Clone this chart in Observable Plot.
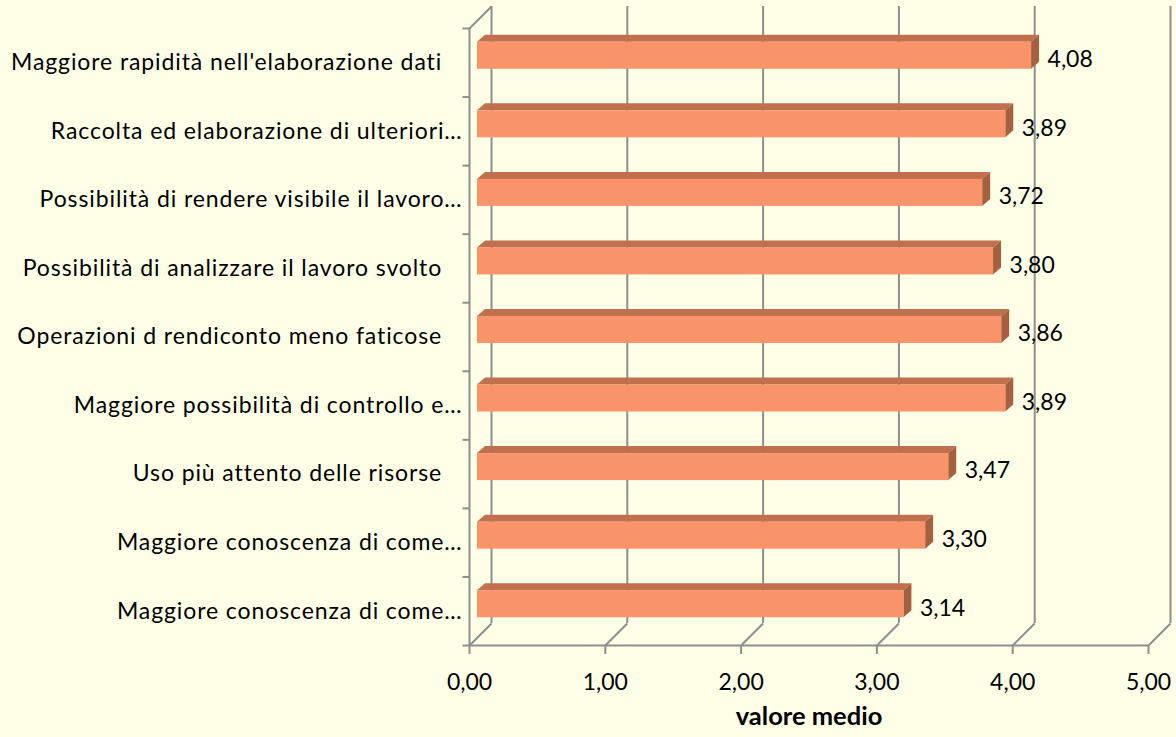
<!DOCTYPE html>
<html><head><meta charset="utf-8">
<script src="https://cdn.jsdelivr.net/npm/d3@7"></script>
<script src="https://cdn.jsdelivr.net/npm/@observablehq/plot@0.6"></script>
<style>html,body{margin:0;padding:0;background:#FFFFE8;}</style>
</head><body><div id="chart"></div>
<script>
const categories = [
  "Maggiore rapidità nell'elaborazione dati\u00a0\u00a0\u00a0",
  "Raccolta ed elaborazione di ulteriori…",
  "Possibilità di rendere visibile il lavoro…",
  "Possibilità di analizzare il lavoro svolto\u00a0\u00a0\u00a0",
  "Operazioni d rendiconto meno faticose\u00a0\u00a0\u00a0",
  "Maggiore possibilità di controllo e…",
  "Uso più attento delle risorse\u00a0\u00a0\u00a0",
  "Maggiore conoscenza di come…",
  "Maggiore conoscenza di come…"
];
const values = [4.08, 3.89, 3.72, 3.80, 3.86, 3.89, 3.47, 3.30, 3.14];
const xTicks = [0, 1, 2, 3, 4, 5];
const xTickLabels = ["0,00", "1,00", "2,00", "3,00", "4,00", "5,00"];
const axisTitle = "valore medio";

// layout / style
const W = 1176, H = 737;
const mL = 469, mR = 28, mT = 28, mB = 92;
const n = categories.length;
const pxX = (W - mL - mR) / 5, pxY = (H - mT - mB) / n;
const ux = p => p / pxX, uy = p => p / pxY;
const WALL = 22, OFFX = 8, OFFY = 7, BDX = 8, BDY = 7, BAR_PX = 27;
const grid = "#8E8E8E", font = "Lato, 'Open Sans', sans-serif";
const cFront = "#F9936A", cTop = "#C0704F", cSide = "#A6603F";

const rows = categories.map((c, i) => ({c, v: values[i], yc: n - i - 0.5, h: uy(BAR_PX)}));
const topFace = rows.flatMap(r => [
  {k: r.c + r.yc, y: r.yc + r.h / 2, x1: 0, x2: r.v},
  {k: r.c + r.yc, y: r.yc + r.h / 2 + uy(BDY), x1: ux(BDX), x2: r.v + ux(BDX)}
]);
const sideFace = rows.flatMap(r => [
  {k: r.c + r.yc, x: r.v, y1: r.yc - r.h / 2, y2: r.yc + r.h / 2},
  {k: r.c + r.yc, x: r.v + ux(BDX), y1: r.yc - r.h / 2 + uy(BDY), y2: r.yc + r.h / 2 + uy(BDY)}
]);
const catTicks = d3.range(n + 1);

const chart = Plot.plot({
  width: W, height: H,
  marginLeft: mL, marginRight: mR, marginTop: mT, marginBottom: mB,
  style: {background: "#FFFFE8", fontFamily: font},
  x: {domain: [0, 5], axis: null},
  y: {domain: [0, n], axis: null},
  marks: [
    Plot.ruleX(xTicks, {x: d => d, y1: 0, y2: n, dx: WALL, dy: -WALL, stroke: grid, strokeWidth: 2}),
    Plot.link(xTicks, {x1: d => d, y1: 0, x2: d => d + ux(WALL), y2: uy(WALL), stroke: grid, strokeWidth: 2}),
    Plot.link([0], {x1: 0, y1: n, x2: ux(WALL), y2: n + uy(WALL), stroke: grid, strokeWidth: 2}),
    Plot.ruleX([0], {y1: 0, y2: n, stroke: grid, strokeWidth: 2}),
    Plot.ruleY([0], {x1: 0, x2: 5, stroke: grid, strokeWidth: 2}),
    Plot.ruleX(xTicks, {x: d => d, y1: 0, y2: -uy(9), stroke: grid, strokeWidth: 2}),
    Plot.link(catTicks, {x1: 0, x2: -ux(7), y1: d => d, y2: d => d, stroke: grid, strokeWidth: 2}),
    Plot.areaX(topFace, {y: "y", x1: "x1", x2: "x2", z: "k", fill: cTop, dx: OFFX, dy: -OFFY}),
    Plot.areaY(sideFace, {x: "x", y1: "y1", y2: "y2", z: "k", fill: cSide, dx: OFFX, dy: -OFFY}),
    Plot.rect(rows, {x1: 0, x2: "v", y1: r => r.yc - r.h / 2, y2: r => r.yc + r.h / 2, fill: cFront, dx: OFFX, dy: -OFFY}),
    Plot.text(rows, {x: "v", y: "yc", text: r => r.v.toFixed(2).replace(".", ","), textAnchor: "start", dx: 24, dy: -3, fontSize: 23, fill: "#000"}),
    Plot.text(rows, {x: 0, y: "yc", text: "c", textAnchor: "end", dx: -7, fontSize: 23, fill: "#000"}),
    Plot.text(xTicks, {x: d => d, frameAnchor: "bottom", text: (d, i) => xTickLabels[i], dy: 44, fontSize: 23, fill: "#000"}),
    Plot.text([axisTitle], {frameAnchor: "bottom", text: d => d, dy: 79, fontSize: 25.5, fontWeight: "bold", fill: "#000"})
  ]
});
chart.querySelectorAll("text").forEach(t => {
  if (categories.includes(t.textContent)) t.style.letterSpacing = "0.9px";
});
document.getElementById("chart").appendChild(chart);
</script>
</body></html>
